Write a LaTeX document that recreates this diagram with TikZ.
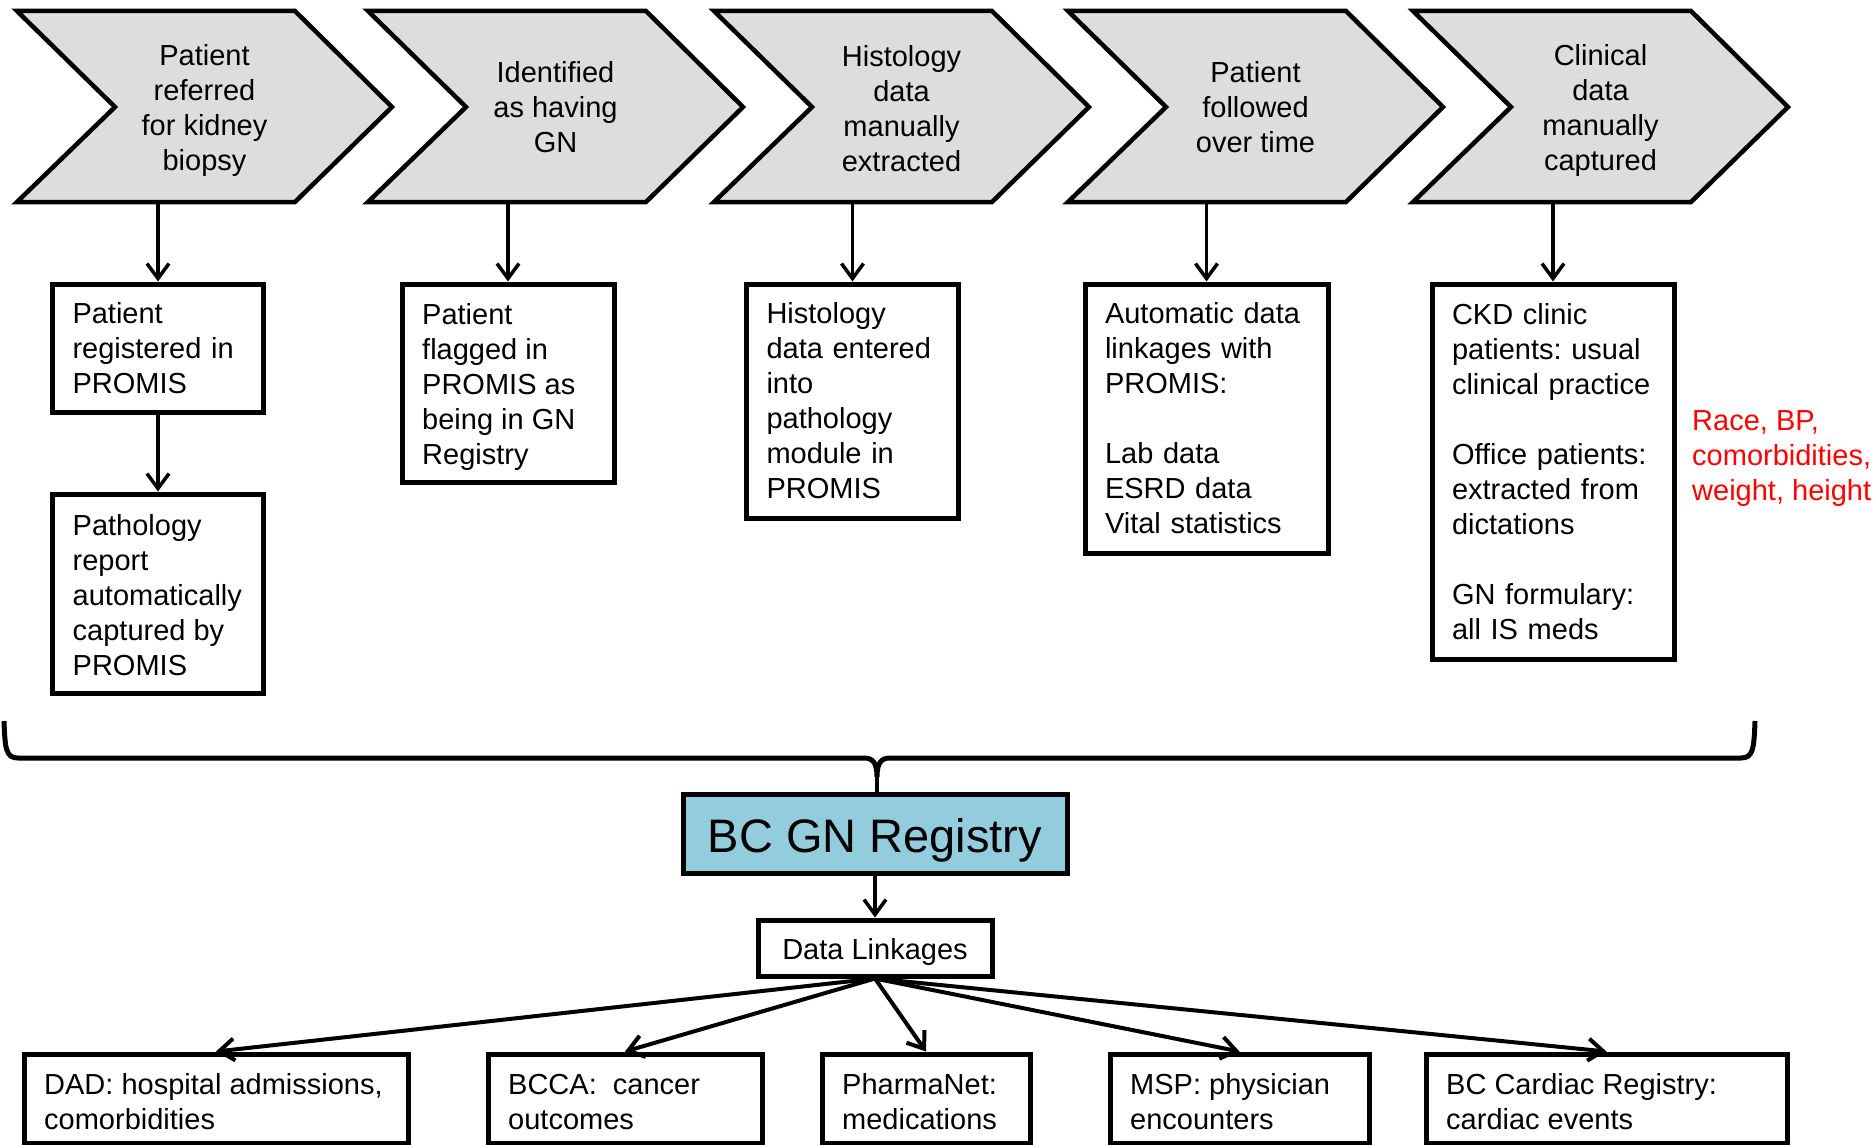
\documentclass[tikz,border=0pt]{standalone}
\usepackage{fontspec}
\setmainfont{Liberation Sans}
\usetikzlibrary{arrows.meta}
\definecolor{chevfill}{RGB}{221,221,221}
\definecolor{regblue}{RGB}{147,205,221}
\frenchspacing
\begin{document}
\begin{tikzpicture}[x=1pt,y=-1pt,
  every node/.style={font=\fontsize{29}{35}\selectfont},
  chev/.style={draw, line width=4.5, fill=chevfill, line join=miter},
  chevtext/.style={align=center, inner sep=0},
  box/.style={draw, line width=5, align=left, inner xsep=20, inner ysep=0, fill=white},
  boxtext/.style={anchor=west, align=left, inner sep=0},
  arr/.style={line width=3.5, -{Straight Barb[length=15pt,width=22pt]}},
]
\useasboundingbox (0,0) rectangle (1876,1145);

% chevrons
\foreach \L in {17,368,714,1068,1413}{
  \filldraw[chev] (\L,11) -- ++(278,0) -- ++(97,96) -- ++(-97,95) -- ++(-278,0) -- ++(98,-95) -- cycle;
}
\node[chevtext] (ch1) at (204.5,111) {Patient\\referred\\for kidney\\biopsy};
\node[chevtext] (ch2) at (555.5,107) {Identified\\as having\\GN};
\node[chevtext] (ch3) at (901.5,109) {Histology\\data\\manually\\extracted};
\node[chevtext] (ch4) at (1255.5,107) {Patient\\followed\\over time};
\node[chevtext] (ch5) at (1600.5,111) {Clinical\\data\\manually\\captured};

% boxes under chevrons
\node[box, minimum width=211, minimum height=128, text width=171] (p1) at (158,348) {Patient\\registered in\\PROMIS};
\node[box, minimum width=211, minimum height=199] (p2) at (158,593.5) {};
\node[boxtext] (p2t) at ([xshift=22.5pt,yshift=-2pt]p2.west) {Pathology\\report\\automatically\\captured by\\PROMIS};
\node[box, minimum width=212, minimum height=198] (g1) at (508,383) {};
\node[boxtext] (g1t) at ([xshift=22.5pt,yshift=-3.5pt]g1.west) {Patient\\flagged in\\PROMIS as\\being in GN\\Registry};
\node[box, minimum width=212, minimum height=234, text width=172] (h1) at (852.5,401) {Histology\\data entered\\into\\pathology\\module in\\PROMIS};
\node[box, minimum width=243, minimum height=269, text width=203] (f1) at (1206.5,418.5) {Automatic data\\linkages with\\PROMIS:\\[35pt]Lab data\\ESRD data\\Vital statistics};
\node[box, minimum width=242, minimum height=375, text width=202] (c1) at (1553,471.5) {CKD clinic\\patients: usual\\clinical practice\\[35pt]Office patients:\\extracted from\\dictations\\[35pt]GN formulary:\\all IS meds};
\node[anchor=west, text=red, align=left, inner sep=0] (note) at (1692,459) {Race, BP,\\comorbidities,\\weight, height};

% chevron to box arrows
\coordinate (s1) at (158,202);
\coordinate (s2) at (508,202);
\coordinate (s3) at (852.5,202);
\coordinate (s4) at (1206.5,202);
\coordinate (s5) at (1553,202);
\draw[arr] (s1) -- (p1.north);
\draw[arr] (p1.south) -- (p2.north);
\draw[arr] (s2) -- (g1.north);
\draw[arr] (s3) -- (h1.north);
\draw[arr] (s4) -- (f1.north);
\draw[arr] (s5) -- (c1.north);

% registry
\node[draw, line width=5, fill=regblue, minimum width=384, minimum height=79, inner sep=0] (reg) at (875,833.5) {};
\node[inner sep=0, font=\fontsize{47}{56}\selectfont] (regtext) at (875,840) {BC GN Registry};
\node[draw, line width=5, fill=white, minimum width=234, minimum height=56, inner sep=0] (dl) at (875,948) {};
\node[inner sep=0] (dltext) at (875,951.5) {Data Linkages};

% brace
\coordinate (btip) at (877,777);
\draw[line width=5] (4,721) .. controls (5,749) and (6,758) .. (18,758) -- (864,758) .. controls (873,758) and (877,763) .. (btip) .. controls (877,763) and (881,758) .. (890,758) -- (1741,758) .. controls (1753,758) and (1754,749) .. (1755,721);
\draw[line width=3.5] (btip) -- (btip |- reg.north);
\draw[arr] (reg.south) -- (dl.north);

% bottom boxes
\node[box, minimum width=384, minimum height=89] (dad) at (216,1098.5) {};
\node[box, minimum width=274, minimum height=89] (bcca) at (625,1098.5) {};
\node[box, minimum width=208, minimum height=89] (pharm) at (926,1098.5) {};
\node[box, minimum width=259, minimum height=89] (msp) at (1239.5,1098.5) {};
\node[box, minimum width=361, minimum height=89] (card) at (1606.5,1098.5) {};
\node[boxtext] (dadt) at ([xshift=22.5pt,yshift=-3.5pt]dad.west) {DAD: hospital admissions,\\comorbidities};
\node[boxtext] (bccat) at ([xshift=22.5pt,yshift=-3.5pt]bcca.west) {BCCA:\ \ cancer\\outcomes};
\node[boxtext] (pharmt) at ([xshift=22.5pt,yshift=-3.5pt]pharm.west) {PharmaNet:\\medications};
\node[boxtext] (mspt) at ([xshift=22.5pt,yshift=-3.5pt]msp.west) {MSP: physician\\encounters};
\node[boxtext] (cardt) at ([xshift=22.5pt,yshift=-3.5pt]card.west) {BC Cardiac Registry:\\cardiac events};

\draw[arr, line width=4] (dl.south) -- (dad.north);
\draw[arr, line width=4] (dl.south) -- (bcca.north);
\draw[arr, line width=4] (dl.south) -- (pharm.north);
\draw[arr, line width=4] (dl.south) -- (msp.north);
\draw[arr, line width=4] (dl.south) -- (card.north);
\end{tikzpicture}
\end{document}
